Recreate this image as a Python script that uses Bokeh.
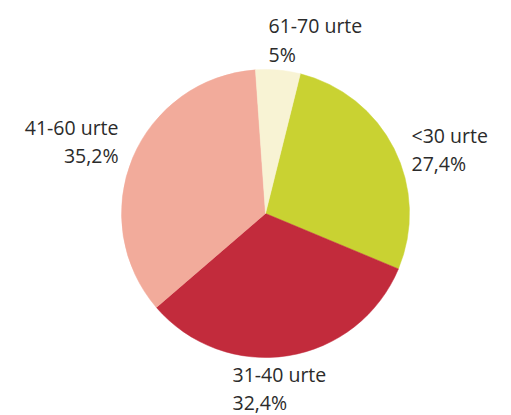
from math import radians
from bokeh.plotting import figure
from bokeh.models import ColumnDataSource, Range1d
from bokeh.core.properties import value
from bokeh.embed import file_html
from bokeh.resources import INLINE

# ---- data ----
categories = ["<30 urte", "31-40 urte", "41-60 urte", "61-70 urte"]
shares = [27.4, 32.4, 35.2, 5.0]
share_labels = ["27,4%", "32,4%", "35,2%", "5%"]
colors = ["#c9d232", "#c22b3c", "#f2ab9b", "#f8f3d4"]

# ---- layout (image pixel coordinates, y measured from top of window) ----
W, H = 511, 415
cx_img, cy_img, r = 265, 213, 144
start_deg = 76  # first slice starts 14 deg clockwise from 12 o'clock

def fy(img_y):
    return 415 - img_y

starts, ends = [], []
cum = 0.0
for s in shares:
    starts.append(radians(start_deg - cum * 3.6))
    cum += s
    ends.append(radians(start_deg - cum * 3.6))

pie = ColumnDataSource(dict(start=starts, end=ends, color=colors))

# label anchor positions (x, first-line y, second-line y, align)
lab_x = [411, 232, 118, 268]
lab_y1 = [135, 374, 127, 25]
lab_y2 = [163, 402, 155, 54]
lab_align = ["left", "left", "right", "left"]

labels = ColumnDataSource(dict(
    x=lab_x,
    y1=[fy(v) for v in lab_y1],
    y2=[fy(v) for v in lab_y2],
    name=categories,
    pct=share_labels,
    align=lab_align,
))

p = figure(width=W, height=H, output_backend="svg", toolbar_location=None,
           x_range=Range1d(0, W), y_range=Range1d(fy(H), fy(0)),
           min_border=0)
p.axis.visible = False
p.grid.visible = False
p.outline_line_color = None
p.background_fill_color = "white"
p.border_fill_color = "white"

p.wedge(x=cx_img, y=fy(cy_img), radius=r, start_angle="start", end_angle="end",
        direction="clock", fill_color="color", line_color="color", line_width=0.5,
        source=pie)

common = dict(text_font=value("Open Sans"), text_font_size="19.5px",
              text_color="#2b2b2b", text_baseline="alphabetic",
              text_align="align", source=labels)
p.text(x="x", y="y1", text="name", **common)
p.text(x="x", y="y2", text="pct", **common)

open("out.html", "w").write(file_html(p, INLINE))
